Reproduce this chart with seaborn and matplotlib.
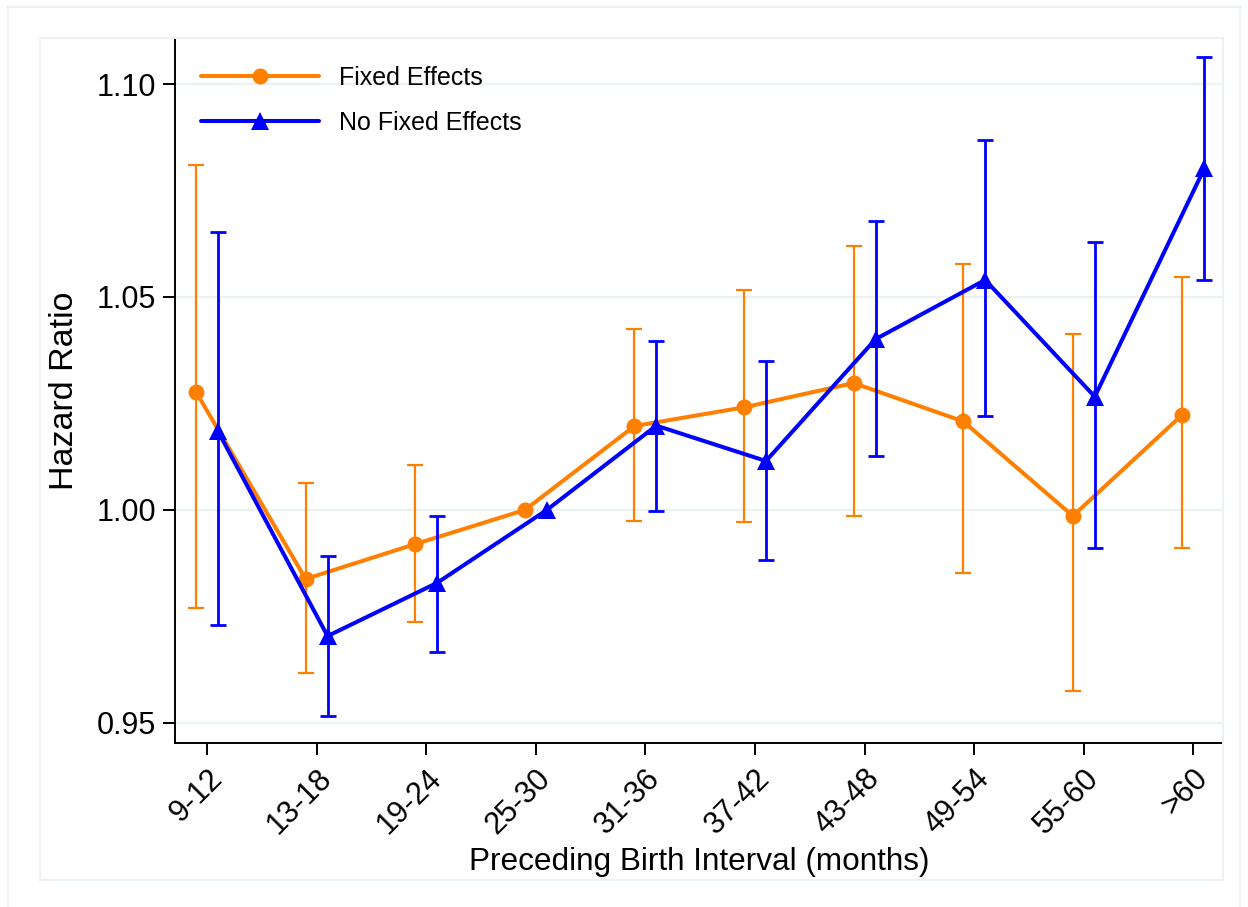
import numpy as np
import pandas as pd
import matplotlib
matplotlib.use("Agg")
import matplotlib.pyplot as plt
from matplotlib.patches import Rectangle
import seaborn as sns

categories = ["9-12", "13-18", "19-24", "25-30", "31-36", "37-42", "43-48", "49-54", "55-60", ">60"]

fe_hr = [1.0277, 0.9838, 0.9920, 1.0000, 1.0197, 1.0241, 1.0298, 1.0208, 0.9986, 1.0224]
fe_lo = [0.9770, 0.9617, 0.9737, 1.0000, 0.9974, 0.9972, 0.9986, 0.9852, 0.9575, 0.9910]
fe_hi = [1.0810, 1.0063, 1.0105, 1.0000, 1.0425, 1.0516, 1.0619, 1.0578, 1.0413, 1.0546]

nfe_hr = [1.0185, 0.9704, 0.9829, 1.0000, 1.0198, 1.0115, 1.0401, 1.0540, 1.0266, 1.0802]
nfe_lo = [0.9730, 0.9516, 0.9667, 1.0000, 0.9998, 0.9882, 1.0126, 1.0220, 0.9910, 1.0539]
nfe_hi = [1.0653, 0.9892, 0.9986, 1.0000, 1.0396, 1.0350, 1.0678, 1.0868, 1.0630, 1.1063]

series_names = ["Fixed Effects", "No Fixed Effects"]
yticks = [0.95, 1.00, 1.05, 1.10]

ORANGE = "#FF8000"
BLUE = "#0000FF"
GRID = "#EAF2F3"

sns.set_theme(style="white")
plt.rcParams["font.family"] = ["Liberation Sans", "DejaVu Sans"]
plt.rcParams["text.color"] = "black"
plt.rcParams["axes.labelcolor"] = "black"
plt.rcParams["xtick.color"] = "black"
plt.rcParams["ytick.color"] = "black"

idx = np.arange(len(categories))
df = pd.concat([
    pd.DataFrame({"pos": idx - 0.1, "hr": fe_hr, "lo": fe_lo, "hi": fe_hi, "model": series_names[0]}),
    pd.DataFrame({"pos": idx + 0.1, "hr": nfe_hr, "lo": nfe_lo, "hi": nfe_hi, "model": series_names[1]}),
], ignore_index=True)

fig = plt.figure(figsize=(12.48, 9.07), dpi=100)
ax = fig.add_axes([175 / 1248, 1 - 743 / 907, 1048 / 1248, 705 / 907])

# frames
fig.add_artist(Rectangle((8 / 1248, -0.02), 1232 / 1248, (907 - 7) / 907 + 0.02,
                         transform=fig.transFigure, fill=False, ec=GRID, lw=1.5))
fig.add_artist(Rectangle((40 / 1248, 1 - 880 / 907), 1183 / 1248, 842 / 907,
                         transform=fig.transFigure, fill=False, ec=GRID, lw=1.5))

for y in yticks:
    ax.axhline(y, color=GRID, lw=1.6, zorder=0)

styles = {
    series_names[0]: dict(color=ORANGE, marker="o", ms=11.5, elw=1.6),
    series_names[1]: dict(color=BLUE, marker="^", ms=13.5, elw=2.0),
}

z = 2
for name in series_names:
    sub = df[df["model"] == name]
    st = styles[name]
    has_ci = (sub["hi"] - sub["lo"]) > 0
    s2 = sub[has_ci]
    ax.errorbar(s2["pos"], s2["hr"], yerr=[s2["hr"] - s2["lo"], s2["hi"] - s2["hr"]],
                fmt="none", ecolor=st["color"], elinewidth=st["elw"], capsize=5.5,
                capthick=st["elw"], zorder=z)
    sns.lineplot(data=sub, x="pos", y="hr", ax=ax, color=st["color"], marker=st["marker"],
                 markersize=st["ms"], markeredgewidth=0, linewidth=2.9, label=name,
                 zorder=z + 1, sort=False, errorbar=None)
    z += 2

ax.set_xlim(-0.292, 9.27)
ax.set_ylim(0.9453, 1.1108)
ax.set_yticks(yticks)
ax.set_yticklabels([f"{v:.2f}" for v in yticks], fontsize=22)
ax.set_xticks(idx)
ax.set_xticklabels(categories, fontsize=22, rotation=45, ha="right", rotation_mode="anchor")

for s in ["top", "right"]:
    ax.spines[s].set_visible(False)
for s in ["left", "bottom"]:
    ax.spines[s].set_color("black")
    ax.spines[s].set_linewidth(1.4)
ax.tick_params(axis="both", which="major", length=8.5, width=1.4, color="black",
               direction="out", left=True, bottom=True)
ax.tick_params(axis="y", pad=5)
ax.tick_params(axis="x", pad=6)

ax.set_xlabel("Preceding Birth Interval (months)", fontsize=22.7, labelpad=5)
ax.set_ylabel("Hazard Ratio", fontsize=24.5, labelpad=12)

leg = ax.legend(loc="upper left", bbox_to_anchor=(0.0248, 0.960), frameon=False,
                fontsize=18, handlelength=4.72, handletextpad=0.8, labelspacing=0.82,
                borderpad=0, borderaxespad=0)

fig.savefig("out.png", dpi=100)
